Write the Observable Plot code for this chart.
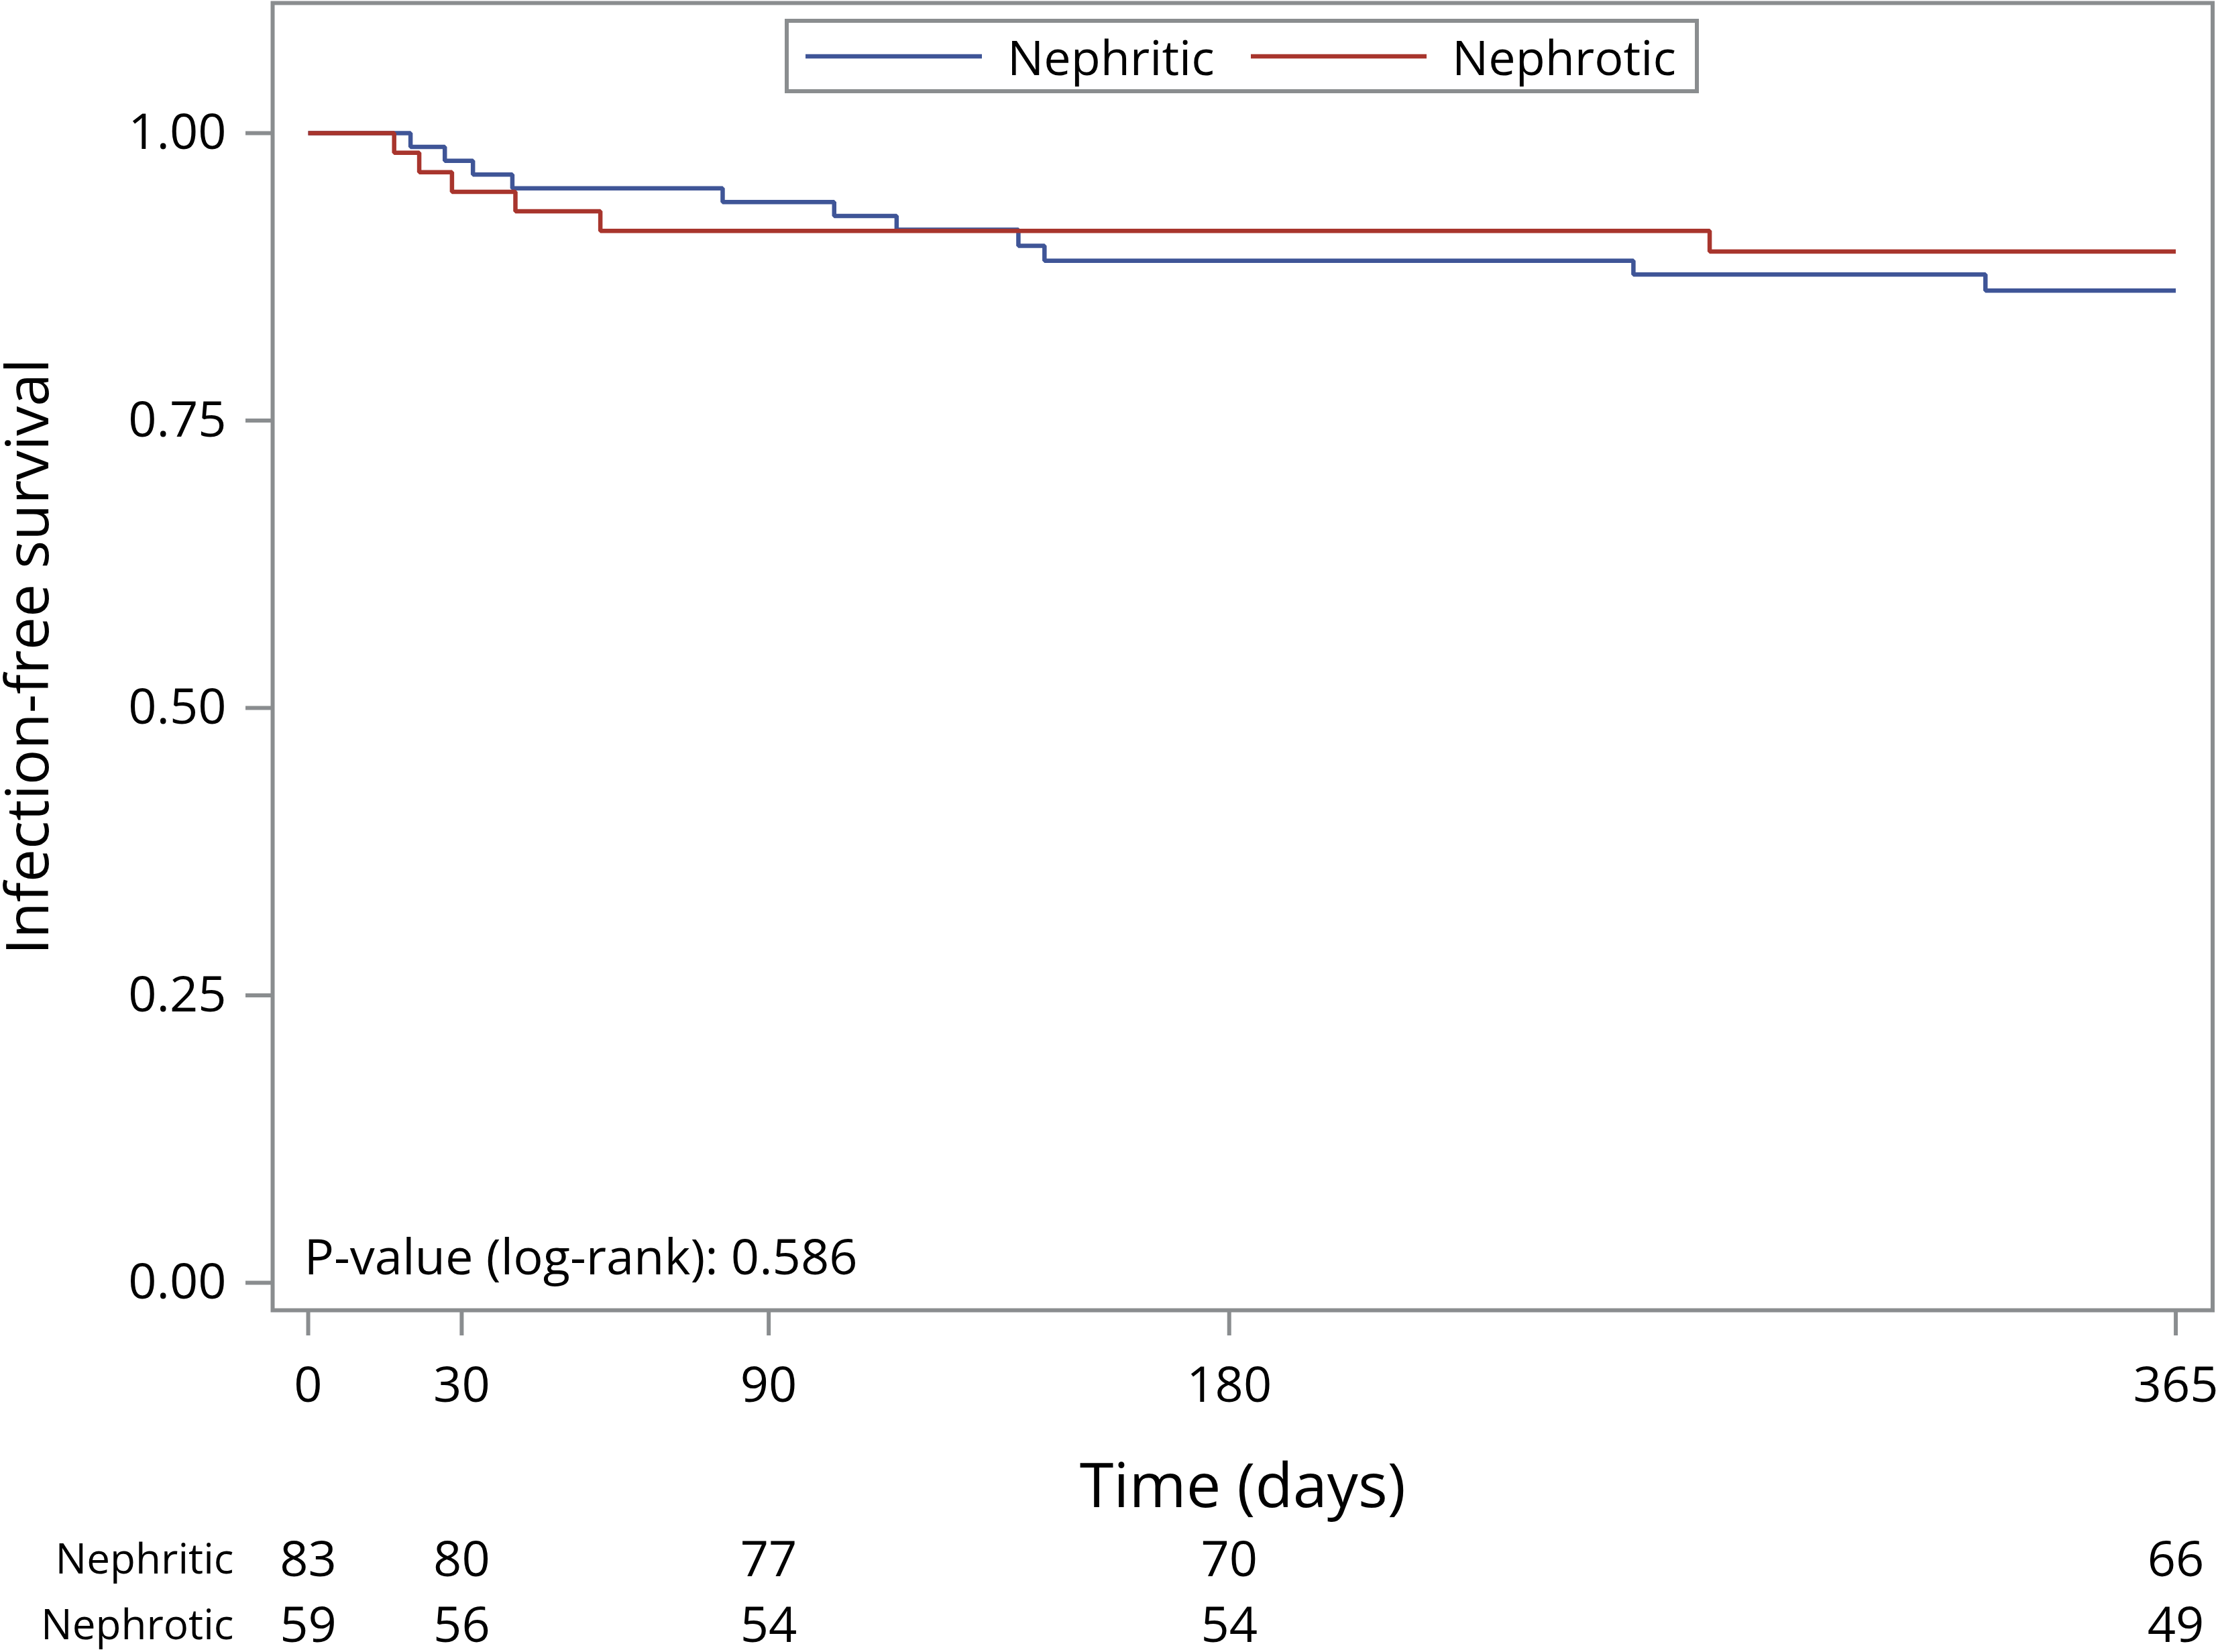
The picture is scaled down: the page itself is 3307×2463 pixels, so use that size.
<!DOCTYPE html>
<html>
<head>
<meta charset="utf-8">
<script src="https://cdn.jsdelivr.net/npm/d3@7"></script>
<script src="https://cdn.jsdelivr.net/npm/@observablehq/plot@0.6"></script>
<style>
  html, body { margin: 0; padding: 0; background: #fff; }
  #wrap { position: relative; width: 3307px; height: 2463px; font-family: "Open Sans", sans-serif; }
  #legend { position: absolute; left: 1170px; top: 28px; }
</style>
</head>
<body>
<div id="wrap"></div>
<script>
// ---- data ----
const groups = ["Nephritic", "Nephrotic"];
const groupColors = ["#3F5597", "#A8352D"];
const nephriticTime = [0, 20, 26.7, 32.2, 39.9, 81, 102.8, 115, 138.8, 143.9, 259, 327.8, 365];
const nephriticSurv = [1, 0.988, 0.976, 0.964, 0.952, 0.940, 0.928, 0.916, 0.902, 0.889, 0.877, 0.863, 0.863];
const nephroticTime = [0, 16.8, 21.7, 28.1, 40.5, 57.1, 273.9, 365];
const nephroticSurv = [1, 0.983, 0.966, 0.949, 0.932, 0.915, 0.897, 0.897];
const xTicks = [0, 30, 90, 180, 365];
const yTicks = [0, 0.25, 0.5, 0.75, 1];
const riskDays = [0, 30, 90, 180, 365];
const nephriticRisk = [83, 80, 77, 70, 66];
const nephroticRisk = [59, 56, 54, 54, 49];
const pValueText = "P-value (log-rank): 0.586";
const xTitle = "Time (days)";
const yTitle = "Infection-free survival";

// ---- build tables ----
const curves = [
  ...nephriticTime.map((t, i) => ({group: groups[0], t, s: nephriticSurv[i]})),
  ...nephroticTime.map((t, i) => ({group: groups[1], t, s: nephroticSurv[i]}))
];
const riskRow1 = riskDays.map((d, i) => ({d, n: nephriticRisk[i]}));
const riskRow2 = riskDays.map((d, i) => ({d, n: nephroticRisk[i]}));

const gray = "#8A8D8F";
const W = 3307, H = 2463;

const chart = Plot.plot({
  width: W,
  height: H,
  marginLeft: 406,
  marginRight: 8.5,
  marginTop: 4,
  marginBottom: 510,
  style: {fontFamily: "'Open Sans', sans-serif", background: "#fff", color: "#000", overflow: "visible"},
  x: {domain: [-6.95, 372.2]},
  y: {domain: [-0.0239, 1.1132]},
  color: {domain: groups, range: groupColors},
  marks: [
    Plot.frame({stroke: gray, strokeWidth: 6}),
    Plot.axisY({ticks: yTicks, tickFormat: d3.format(".2f"), tickSize: 40, tickPadding: 29,
      fontSize: 74, stroke: gray, strokeWidth: 6, fill: "#000", label: null}),
    Plot.axisX({ticks: xTicks, tickFormat: d3.format("d"), tickSize: 38, tickPadding: 46,
      fontSize: 74, stroke: gray, strokeWidth: 6, fill: "#000", label: null}),
    Plot.line(curves, {x: "t", y: "s", z: "group", stroke: "group", curve: "step-after", strokeWidth: 6.5,
      strokeLinejoin: "miter", strokeLinecap: "butt"}),
    Plot.text([pValueText], {frameAnchor: "bottom-left", dx: 47, dy: -77, textAnchor: "start", lineAnchor: "middle", fontSize: 74, fill: "#000"}),
    Plot.text([xTitle], {frameAnchor: "bottom", dy: 264, textAnchor: "middle", lineAnchor: "middle", fontSize: 92, fill: "#000"}),
    Plot.text([yTitle], {frameAnchor: "left", dx: -363, rotate: -90, textAnchor: "middle", lineAnchor: "middle", fontSize: 88, fill: "#000"}),
    Plot.text([groups[0]], {frameAnchor: "bottom-left", dx: -58, dy: 373, textAnchor: "end", lineAnchor: "middle", fontSize: 62, fill: "#000"}),
    Plot.text([groups[1]], {frameAnchor: "bottom-left", dx: -58, dy: 471, textAnchor: "end", lineAnchor: "middle", fontSize: 62, fill: "#000"}),
    Plot.text(riskRow1, {x: "d", text: "n", frameAnchor: "bottom", dy: 373, textAnchor: "middle", lineAnchor: "middle", fontSize: 74, fill: "#000"}),
    Plot.text(riskRow2, {x: "d", text: "n", frameAnchor: "bottom", dy: 471, textAnchor: "middle", lineAnchor: "middle", fontSize: 74, fill: "#000"})
  ]
});
document.getElementById("wrap").appendChild(chart);

// ---- legend (inside the frame, top centre) ----
const lw = 1363, lh = 111;
const leg = d3.select("#wrap").append("svg").attr("id", "legend")
  .attr("width", lw).attr("height", lh);
leg.append("rect").attr("x", 3).attr("y", 3).attr("width", lw - 6).attr("height", lh - 6)
  .attr("fill", "#fff").attr("stroke", gray).attr("stroke-width", 6);
const items = [
  {x1: 31, x2: 294, tx: 332},
  {x1: 695, x2: 957, tx: 995}
];
groups.forEach((g, i) => {
  leg.append("line").attr("x1", items[i].x1).attr("x2", items[i].x2)
    .attr("y1", 56).attr("y2", 56).attr("stroke", groupColors[i]).attr("stroke-width", 6.5);
  leg.append("text").attr("x", items[i].tx).attr("y", 83.5)
    .attr("font-family", "'Open Sans', sans-serif").attr("font-size", 72).attr("fill", "#000").text(g);
});
</script>
</body>
</html>
